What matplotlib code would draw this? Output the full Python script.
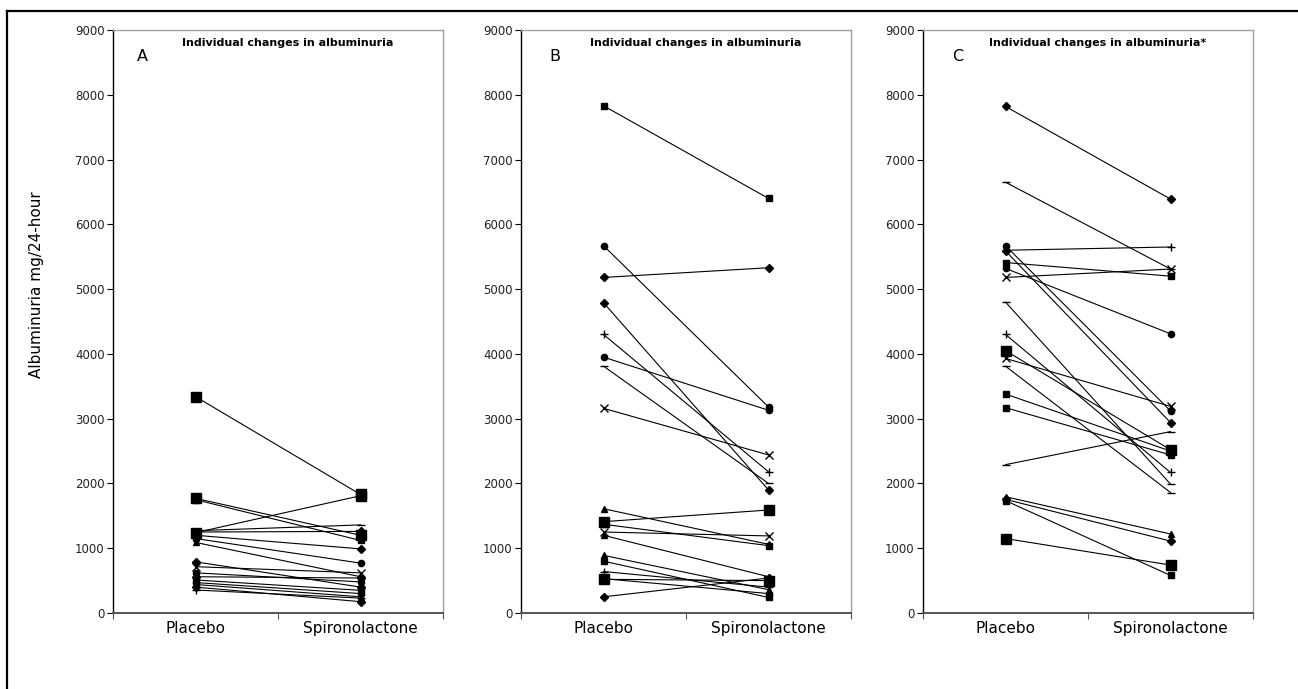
import matplotlib
matplotlib.use('Agg')
import matplotlib.pyplot as plt
from matplotlib.lines import Line2D

# category labels and axis range
groups = ['Placebo', 'Spironolactone']
y_ticks = [0, 1000, 2000, 3000, 4000, 5000, 6000, 7000, 8000, 9000]

# panel A: albuminuria per patient (placebo -> spironolactone)
placebo_a = [3340, 1770, 1750, 1240, 1270, 1250, 1200, 1150, 1090, 790, 715, 620, 560, 510, 470, 440, 400, 355]
spiro_a = [1830, 1200, 1120, 1810, 1360, 1260, 990, 770, 560, 400, 620, 480, 540, 350, 300, 250, 175, 230]

# panel B
placebo_b = [7830, 5670, 5180, 4790, 4300, 3950, 3810, 3160, 1610, 1410, 1370, 1250, 1200, 890, 800, 640, 520, 530, 250]
spiro_b = [6400, 3180, 5330, 1900, 2180, 3130, 2000, 2440, 1060, 1590, 1040, 1190, 560, 360, 240, 400, 500, 300, 540]

# panel C
placebo_c = [7820, 6650, 5600, 5670, 5590, 5410, 5320, 5180, 4800, 4300, 4050, 3930, 3810, 3380, 3170, 2290, 1795, 1755, 1735, 1150]
spiro_c = [6390, 5310, 5650, 3120, 2940, 5200, 4310, 5310, 1990, 2170, 2520, 3190, 1860, 2500, 2440, 2800, 1220, 1110, 580, 740]

# marker styles (Excel-like), kept apart from the data
mk_a = ['s', 's', 's', 's', '_', 'D', 'D', 'o', '^', 'D', 'x', 'o', 'D', 's', 'o', '^', 'D', '+']
big_a = [1, 1, 0, 1, 0, 0, 0, 0, 0, 0, 0, 0, 0, 0, 0, 0, 0, 0]
mk_b = ['s', 'o', 'D', 'D', '+', 'o', '_', 'x', '^', 's', 's', 'x', '^', '^', 's', '+', 's', 'o', 'D']
big_b = [0, 0, 0, 0, 0, 0, 0, 0, 0, 1, 0, 0, 0, 0, 0, 0, 1, 0, 0]
mk_c = ['D', '_', '+', 'o', 'D', 's', 'o', 'x', '_', '+', 's', 'x', '_', 's', 's', '_', '^', 'D', 's', 's']
big_c = [0, 0, 0, 0, 0, 0, 0, 0, 0, 0, 1, 0, 0, 0, 0, 0, 0, 0, 0, 1]

W, H = 1298, 689
fig = plt.figure(figsize=(W / 100, H / 100), dpi=100)

# outer frame (left and top edges visible)
fig.add_artist(Line2D([7 / W, 7 / W], [0, 1 - 11 / H], color='black', lw=1.6, transform=fig.transFigure))
fig.add_artist(Line2D([7 / W, 1], [1 - 11 / H, 1 - 11 / H], color='black', lw=1.6, transform=fig.transFigure))

panels = [
    (113, placebo_a, spiro_a, mk_a, big_a, 'A', 'Individual changes in albuminuria', 0.088),
    (521, placebo_b, spiro_b, mk_b, big_b, 'B', 'Individual changes in albuminuria', 0.103),
    (923, placebo_c, spiro_c, mk_c, big_c, 'C', 'Individual changes in albuminuria*', 0.105),
]

for left, pl, sp, mks, bigs, letter, title, lx in panels:
    ax = fig.add_axes([left / W, 1 - 613 / H, 330 / W, 583 / H])
    for p, s, m, b in zip(pl, sp, mks, bigs):
        ms = 7.5 if b else 4.5
        if m == 'D':
            ms = 4.2
        if m in ('x', '+', '_'):
            ms = 6
        ax.plot([0.5, 1.5], [p, s], color='black', lw=0.8, marker=m, ms=ms,
                mfc='black', mec='black', mew=1.0)
    ax.set_xlim(0, 2)
    ax.set_ylim(0, 9000)
    ax.set_yticks(y_ticks)
    ax.set_yticklabels([str(v) for v in y_ticks], fontsize=8.5, color='#222222')
    ax.set_xticks([0, 1, 2])
    ax.set_xticklabels(['', '', ''])
    ax.set_xticks([0.5, 1.5], minor=True)
    ax.set_xticklabels(groups, minor=True, fontsize=11)
    ax.tick_params(axis='x', which='minor', length=0, pad=6)
    ax.tick_params(axis='x', which='major', length=4, width=0.8, color='#555555')
    ax.tick_params(axis='y', length=4, width=0.8, pad=2)
    ax.spines['left'].set_color('black')
    ax.spines['left'].set_linewidth(1.0)
    ax.spines['bottom'].set_color('#555555')
    ax.spines['bottom'].set_linewidth(1.4)
    ax.spines['top'].set_color('#a0a0a0')
    ax.spines['right'].set_color('#a0a0a0')
    ax.spines['top'].set_linewidth(1.0)
    ax.spines['right'].set_linewidth(1.0)
    ax.text(0.53, 0.978, title, transform=ax.transAxes, ha='center', va='center',
            fontsize=8, fontweight='bold')
    ax.text(lx, 0.954, letter, transform=ax.transAxes, ha='center', va='center', fontsize=11.5)

fig.text(37 / W, 1 - 285 / H, 'Albuminuria mg/24-hour', rotation=90, ha='center', va='center', fontsize=11)

fig.savefig('out.png', dpi=100)
